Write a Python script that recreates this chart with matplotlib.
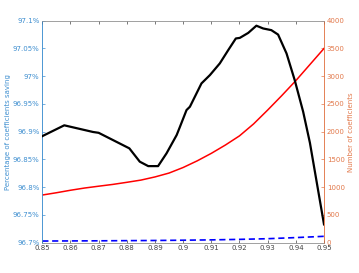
import matplotlib
matplotlib.use("Agg")
import matplotlib.pyplot as plt

# Black line: percentage of coefficients saving (left axis)
pct_x = [0.85, 0.8578, 0.868, 0.870, 0.8809, 0.8846, 0.8876, 0.8911, 0.8941, 0.8977,
         0.8988, 0.9012, 0.9024, 0.9065, 0.9095, 0.913, 0.916, 0.9187, 0.9201, 0.9231,
         0.926, 0.9284, 0.9313, 0.9337, 0.9367, 0.9396, 0.9426, 0.945, 0.95]
pct_y = [96.892, 96.9115, 96.8995, 96.898, 96.870, 96.846, 96.838, 96.838, 96.861, 96.894,
         96.908, 96.939, 96.945, 96.987, 97.002, 97.023, 97.047, 97.068, 97.069, 97.078,
         97.091, 97.086, 97.083, 97.075, 97.041, 96.993, 96.936, 96.88, 96.733]

# Red line: number of coefficients (right axis)
red_x = [0.850, 0.855, 0.860, 0.865, 0.870, 0.875, 0.880, 0.885, 0.890, 0.895, 0.900,
         0.905, 0.910, 0.915, 0.920, 0.925, 0.930, 0.935, 0.940, 0.945, 0.950]
red_y = [859, 900, 945, 985, 1018, 1050, 1088, 1128, 1185, 1255, 1355,
         1475, 1610, 1760, 1925, 2140, 2390, 2650, 2920, 3210, 3500]

# Blue dashed line: number of coefficients (right axis)
blue_x = [0.85, 0.87, 0.89, 0.90, 0.91, 0.92, 0.93, 0.94, 0.95]
blue_y = [30, 34, 40, 45, 51, 60, 72, 92, 115]

xticks = [0.85, 0.86, 0.87, 0.88, 0.89, 0.9, 0.91, 0.92, 0.93, 0.94, 0.95]
xtick_labels = ["0.85", "0.86", "0.87", "0.88", "0.89", "0.9", "0.91", "0.92", "0.93", "0.94", "0.95"]
lticks = [96.7, 96.75, 96.8, 96.85, 96.9, 96.95, 97.0, 97.05, 97.1]
ltick_labels = ["96.7%", "96.75%", "96.8%", "96.85%", "96.9%", "96.95%", "97%", "97.05%", "97.1%"]
rticks = [0, 500, 1000, 1500, 2000, 2500, 3000, 3500, 4000]

left_col = "#3f8fd0"
right_col = "#e2784a"
gray = "#444444"

fig = plt.figure(figsize=(3.59, 2.73), dpi=100)
ax = fig.add_axes([42.3/359, 1 - 242.7/273, (324 - 42.3)/359, (242.7 - 20.7)/273])
ax2 = ax.twinx()

ax.plot(pct_x, pct_y, color="black", lw=1.6, zorder=3)
ax2.plot(red_x, red_y, color="#ff0000", lw=1.1)
ax2.plot(blue_x, blue_y, color="#0000ff", lw=1.2, ls=(0, (3.7, 2.2)))

ax.set_zorder(ax2.get_zorder() + 1)
ax.patch.set_visible(False)

ax.set_xlim(0.85, 0.95)
ax.set_ylim(96.7, 97.1)
ax2.set_ylim(0, 4000)
ax.set_xticks(xticks)
ax.set_xticklabels(xtick_labels)
ax.set_yticks(lticks)
ax.set_yticklabels(ltick_labels)
ax2.set_yticks(rticks)
ax2.set_yticklabels([str(v) for v in rticks])

fs = 5
ax.tick_params(axis="x", direction="in", top=True, length=2.5, width=0.5,
               labelsize=fs, colors=gray, pad=2)
ax.tick_params(axis="y", direction="in", length=2.5, width=0.5, labelsize=fs,
               colors=left_col, pad=2)
ax2.tick_params(axis="y", direction="in", length=2.5, width=0.5, labelsize=fs,
                colors=right_col, pad=2)

for a in (ax, ax2):
    a.spines["top"].set_color("#999999")
    a.spines["bottom"].set_color("#999999")
    a.spines["left"].set_color(left_col)
    a.spines["right"].set_color(right_col)
    for s in a.spines.values():
        s.set_linewidth(0.5)

ax.set_ylabel("Percentage of coefficients saving", fontsize=fs, color=left_col, labelpad=1)
ax2.set_ylabel("Number of coefficients", fontsize=fs, color=right_col, labelpad=2)

fig.savefig("out.png", dpi=100)
